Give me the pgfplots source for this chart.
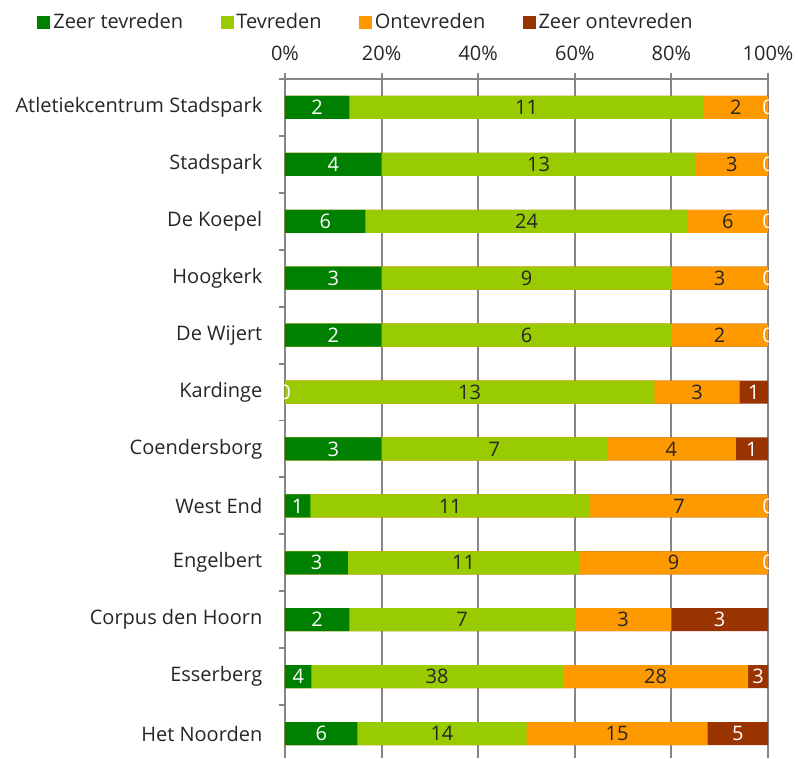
\documentclass[border=0pt]{standalone}
\usepackage{pgfplots}
\usepackage{pgfplotstable}
\pgfplotsset{compat=1.18}
\usepackage{fontspec}
\setmainfont{Open Sans}

\definecolor{zgroen}{RGB}{0,128,0}
\definecolor{lgroen}{RGB}{153,204,0}
\definecolor{oranje}{RGB}{255,153,0}
\definecolor{zrood}{RGB}{153,51,0}
\definecolor{rooster}{RGB}{134,134,134}
\definecolor{tekst}{RGB}{38,38,38}

% counts per location: zeer tevreden, tevreden, ontevreden, zeer ontevreden
\pgfplotstableread[col sep=comma]{
name,a,b,c,d
Atletiekcentrum Stadspark,2,11,2,0
Stadspark,4,13,3,0
De Koepel,6,24,6,0
Hoogkerk,3,9,3,0
De Wijert,2,6,2,0
Kardinge,0,13,3,1
Coendersborg,3,7,4,1
West End,1,11,7,0
Engelbert,3,11,9,0
Corpus den Hoorn,2,7,3,3
Esserberg,4,38,28,3
Het Noorden,6,14,15,5
}\data

\newcommand\tot{(\thisrow{a}+\thisrow{b}+\thisrow{c}+\thisrow{d})}

\begin{document}
\begin{tikzpicture}[font=\fontsize{15}{18}\selectfont, text=tekst]
\begin{axis}[
  name=ax,
  scale only axis,
  width=362.25pt, height=509.25pt,
  xmin=0, xmax=100,
  ymin=-0.5, ymax=11.43,
  y dir=reverse,
  axis x line*=top, axis y line*=left,
  axis line style={rooster, line width=1.5pt},
  xtick={0,20,...,100},
  xticklabel={\pgfmathprintnumber{\tick}\%},
  xticklabel pos=upper,
  /pgf/number format/assume math mode=true,
  xmajorgrids,
  grid style={rooster, line width=1.4pt},
  ytick={0,...,11},
  yticklabels from table={\data}{name},
  minor ytick={-0.5,0.5,...,10.5},
  tick align=outside,
  major tick length=4.5pt,
  minor tick length=4.5pt,
  tick style={rooster, line width=1.4pt},
  major y tick style={draw=none},
  yticklabel style={xshift=-9pt},
  xticklabel style={yshift=6pt},
  every node near coord/.append style={anchor=center, font=\fontsize{15}{18}\selectfont},
  clip marker paths=true,
  legend style={at={(axis description cs:-0.513,1.084)}, anchor=west,
    draw=none, fill=none, legend columns=4, inner sep=0pt,
    /tikz/every even column/.append style={column sep=26pt},
    /tikz/every odd column/.append style={column sep=0.5pt},
    nodes={inner xsep=2pt, inner ysep=1pt}},
  legend image code/.code={\fill[#1] (0pt,-4.5pt) rectangle (9pt,4.5pt);},
]
% bars drawn back to front, each one up to its cumulative share
\addplot[xbar, bar shift=0pt, bar width=17.25pt, fill=zrood, draw=none, forget plot]
  table[x expr={(\thisrow{a}+\thisrow{b}+\thisrow{c}+\thisrow{d})/\tot*100}, y expr=\coordindex]{\data};
\addplot[xbar, bar shift=0pt, bar width=17.25pt, fill=oranje, draw=none, forget plot]
  table[x expr={(\thisrow{a}+\thisrow{b}+\thisrow{c})/\tot*100}, y expr=\coordindex]{\data};
\addplot[xbar, bar shift=0pt, bar width=17.25pt, fill=lgroen, draw=none, forget plot]
  table[x expr={(\thisrow{a}+\thisrow{b})/\tot*100}, y expr=\coordindex]{\data};
\addplot[xbar, bar shift=0pt, bar width=17.25pt, fill=zgroen, draw=none, forget plot]
  table[x expr={\thisrow{a}/\tot*100}, y expr=\coordindex]{\data};

% count labels in the middle of each segment
\addplot[only marks, mark=none, nodes near coords, point meta=explicit symbolic,
  every node near coord/.append style={text=white}, forget plot]
  table[x expr={\thisrow{a}/2/\tot*100}, y expr=\coordindex, meta=a]{\data};
\addplot[only marks, mark=none, nodes near coords, point meta=explicit symbolic,
  every node near coord/.append style={text=tekst}, forget plot]
  table[x expr={(\thisrow{a}+\thisrow{b}/2)/\tot*100}, y expr=\coordindex, meta=b]{\data};
\addplot[only marks, mark=none, nodes near coords, point meta=explicit symbolic,
  every node near coord/.append style={text=tekst}, forget plot]
  table[x expr={(\thisrow{a}+\thisrow{b}+\thisrow{c}/2)/\tot*100}, y expr=\coordindex, meta=c]{\data};
\addplot[only marks, mark=none, nodes near coords, point meta=explicit symbolic,
  every node near coord/.append style={text=white}, forget plot]
  table[x expr={(\thisrow{a}+\thisrow{b}+\thisrow{c}+\thisrow{d}/2)/\tot*100}, y expr=\coordindex, meta=d]{\data};

\addlegendimage{zgroen}\addlegendentry{Zeer tevreden}
\addlegendimage{lgroen}\addlegendentry{Tevreden}
\addlegendimage{oranje}\addlegendentry{Ontevreden}
\addlegendimage{zrood}\addlegendentry{Zeer ontevreden}
\end{axis}
\pgfresetboundingbox
\path[use as bounding box] ([xshift=-213.75pt]ax.south west) rectangle ([xshift=22.5pt, yshift=59.25pt]ax.north east);
\end{tikzpicture}
\end{document}
